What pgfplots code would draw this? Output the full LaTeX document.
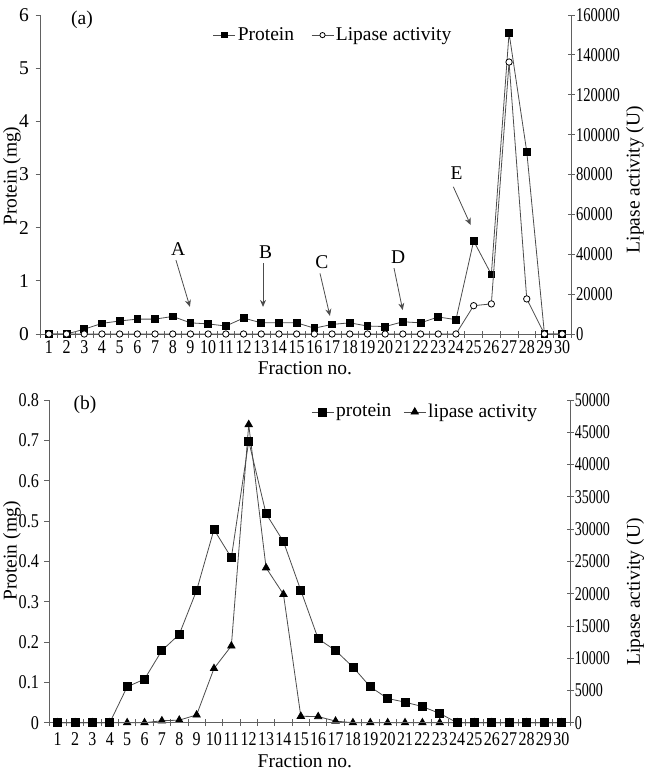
\documentclass[border=0pt]{standalone}
\usepackage{fontspec}
\setmainfont{Liberation Serif}
\usepackage{pgfplots}
\pgfplotsset{compat=1.18}
\usetikzlibrary{arrows.meta}
\newcommand\fs{\fontsize{19.5}{23}\selectfont}
\definecolor{ln}{gray}{0.3}
\definecolor{ax}{gray}{0.38}
\pgfplotsset{
  base/.style={scale only axis, xmin=0.5, xmax=30.5, ymin=0, clip=false,
    /pgf/number format/assume math mode=true, /pgf/number format/1000 sep={},
    /pgf/number format/fixed,
    tick label style={font=\fs, black}, label style={font=\fs},
    every tick/.style={ax, line width=0.8pt},
    axis line style={ax, line width=0.8pt}},
  protA/.style={ln, line width=0.8pt, mark=square*, mark size=3.4pt, mark options={black, fill=black, solid}},
  lipA/.style={ln, line width=0.8pt, mark=*, mark size=3.2pt, mark options={draw=black, fill=white, solid}},
  protB/.style={ln, line width=0.8pt, mark=square*, mark size=4pt, mark options={black, fill=black, solid}},
  lipB/.style={ln, line width=0.8pt, mark=triangle*, mark size=4.2pt, mark options={black, fill=black, solid}},
  leg/.style={legend style={draw=none, fill=none, font=\fs, /tikz/every even column/.append style={column sep=#1}},
    legend columns=2,
    legend image code/.code={\draw[mark repeat=2, mark phase=2] plot coordinates {(0pt,0pt) (11pt,0pt) (22pt,0pt)};}},
}
\begin{document}
\fs
\begin{tikzpicture}
\useasboundingbox (0,0) rectangle (645pt,-778pt);
% ---------------- panel (a) ----------------
\begin{axis}[base, at={(40pt,-334pt)}, anchor=south west, width=531pt, height=319pt, ymax=6,
  axis y line*=left, axis x line*=bottom, axis line style={-},
  xtick=\empty, ytick={0,1,...,6}, tick align=outside, major tick length=4.5pt,
  ylabel={Protein (mg)}, ylabel style={at={(axis description cs:-0.053,0.495)}, anchor=center}]
\addplot[protA] coordinates {(1,0) (2,0) (3,0.09) (4,0.20) (5,0.245) (6,0.28) (7,0.28) (8,0.33) (9,0.21) (10,0.19)
 (11,0.15) (12,0.30) (13,0.21) (14,0.21) (15,0.21) (16,0.11) (17,0.18) (18,0.21) (19,0.15) (20,0.14)
 (21,0.23) (22,0.21) (23,0.32) (24,0.27) (25,1.75) (26,1.12) (27,5.66) (28,3.43) (29,0) (30,0)};
\begin{scope}[ln, line width=0.8pt, -{Stealth[length=7pt, width=6pt]}]
\draw (axis cs:8.18,1.39) -- (axis cs:8.97,0.51);
\draw (axis cs:13.1,1.33) -- (axis cs:13.1,0.51);
\draw (axis cs:16.32,1.14) -- (axis cs:16.88,0.34);
\draw (axis cs:20.5,1.24) -- (axis cs:20.99,0.45);
\draw (axis cs:23.85,2.77) -- (axis cs:24.83,2.05);
\end{scope}
\node[font=\fs] at (axis cs:8.31,1.59) {A};
\node[font=\fs] at (axis cs:13.25,1.54) {B};
\node[font=\fs] at (axis cs:16.42,1.36) {C};
\node[font=\fs] at (axis cs:20.74,1.45) {D};
\node[font=\fs] at (axis cs:24.04,3.02) {E};
\end{axis}
\begin{axis}[base, at={(40pt,-334pt)}, anchor=south west, width=531pt, height=319pt, ymax=160000,
  axis y line*=right, axis x line*=bottom, axis line style={-}, scaled y ticks=false,
  ytick={0,20000,...,160000}, minor ytick={0,20000,...,160000},
  xtick={1,...,30}, minor xtick={0.5,1.5,...,30.5},
  tick align=center, major tick length=0pt, minor tick length=7pt,
  xticklabel style={xscale=0.82}, yticklabel style={xscale=0.75},
  xlabel={Fraction no.}, xlabel style={at={(axis description cs:0.499,-0.107)}, anchor=center},
  ylabel={Lipase activity (U)}, ylabel style={at={(axis description cs:1.1205,0.484)}, anchor=center},
  leg=15pt, legend style={at={(axis description cs:0.552,0.937)}, anchor=center},
  legend image post style={mark size=2.6pt}]
\addlegendimage{protA}
\addlegendentry{Protein}
\addplot[lipA] coordinates {(1,0) (2,0) (3,0) (4,0) (5,0) (6,0) (7,0) (8,0) (9,0) (10,0)
 (11,0) (12,0) (13,0) (14,0) (15,0) (16,0) (17,0) (18,0) (19,0) (20,0)
 (21,0) (22,0) (23,0) (24,0) (25,14200) (26,15100) (27,136400) (28,17600) (29,0) (30,0)};
\addlegendentry{Lipase activity}
\end{axis}
\node[font=\fs] at (82pt,-20pt) {(a)};
% ---------------- panel (b) ----------------
\begin{axis}[base, at={(49pt,-722.7pt)}, anchor=south west, width=521pt, height=322.7pt, ymax=50000,
  axis y line*=right, axis x line*=bottom, axis line style={-}, scaled y ticks=false,
  ytick={0,5000,...,50000}, minor ytick={0,5000,...,50000},
  xtick={1,...,30}, minor xtick={0.5,1.5,...,30.5},
  tick align=center, major tick length=0pt, minor tick length=7pt,
  xticklabel style={xscale=0.82, yshift=-3pt}, yticklabel style={xscale=0.72},
  xlabel={Fraction no.}, xlabel style={at={(axis description cs:0.491,-0.119)}, anchor=center},
  ylabel={Lipase activity (U)}, ylabel style={at={(axis description cs:1.125,0.405)}, anchor=center}]
\addplot[lipB] coordinates {(1,0) (2,0) (3,0) (4,0) (5,0) (6,0) (7,300) (8,400) (9,1200) (10,8400)
 (11,11900) (12,46200) (13,24000) (14,19900) (15,1000) (16,950) (17,250) (18,0) (19,0) (20,0)
 (21,0) (22,0) (23,0) (24,0) (25,0) (26,0) (27,0) (28,0) (29,0) (30,0)};
\end{axis}
\begin{axis}[base, at={(49pt,-722.7pt)}, anchor=south west, width=521pt, height=322.7pt, ymax=0.8,
  axis y line*=left, axis x line*=bottom, axis line style={-},
  xtick=\empty, ytick={0,0.1,...,0.8}, tick align=outside, major tick length=4.5pt,
  yticklabel style={xscale=0.83},
  ylabel={Protein (mg)}, ylabel style={at={(axis description cs:-0.071,0.532)}, anchor=center},
  leg=10pt, legend style={at={(axis description cs:0.722,0.963)}, anchor=center}]
\addplot[protB] coordinates {(1,0) (2,0) (3,0) (4,0) (5,0.089) (6,0.108) (7,0.179) (8,0.219) (9,0.328) (10,0.479)
 (11,0.409) (12,0.698) (13,0.518) (14,0.449) (15,0.328) (16,0.208) (17,0.179) (18,0.138) (19,0.089) (20,0.060)
 (21,0.051) (22,0.040) (23,0.023) (24,0) (25,0) (26,0) (27,0) (28,0) (29,0) (30,0)};
\addlegendentry{protein}
\addlegendimage{lipB}
\addlegendentry{lipase activity}
\end{axis}
\node[font=\fs] at (85pt,-405pt) {(b)};
\end{tikzpicture}
\end{document}
